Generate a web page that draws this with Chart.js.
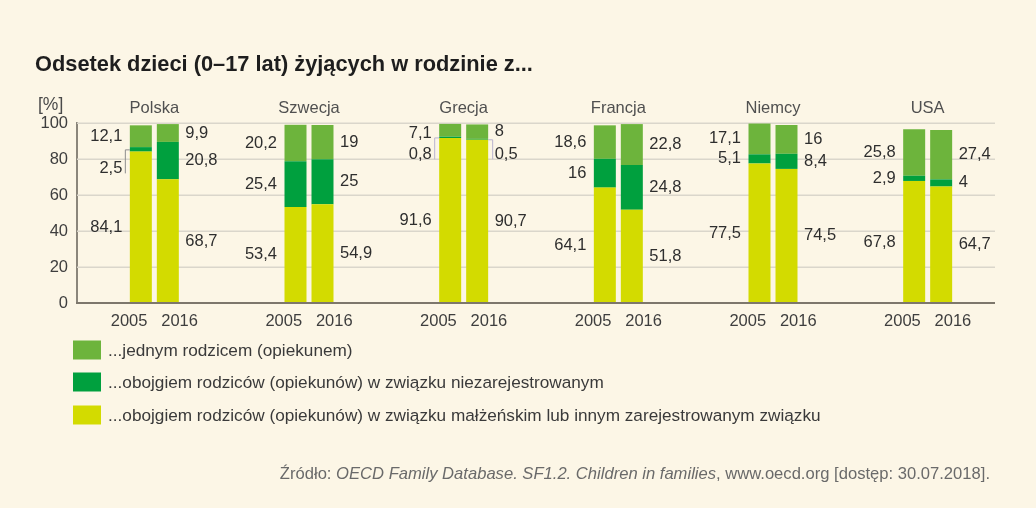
<!DOCTYPE html>
<html><head><meta charset="utf-8">
<script src="https://cdn.jsdelivr.net/npm/chart.js@4.4.1/dist/chart.umd.min.js"></script>
<style>
html,body{margin:0;padding:0;background:#FCF6E6;overflow:hidden}
#wrap{width:1036px;height:508px;position:relative}
canvas{display:block}
</style>
</head><body>
<div id="wrap"><canvas id="c" width="1036" height="508" style="width:1036px;height:508px"></canvas></div>
<script>
// ---- data ----
const countries = ['Polska', 'Szwecja', 'Grecja', 'Francja', 'Niemcy', 'USA'];
const years = ['2005', '2016'];
const yTicks = [0, 20, 40, 60, 80, 100];
const married2005 = [84.1, 53.4, 91.6, 64.1, 77.5, 67.8];
const married2016 = [68.7, 54.9, 90.7, 51.8, 74.5, 64.7];
const cohab2005   = [2.5, 25.4, 0.8, 16, 5.1, 2.9];
const cohab2016   = [20.8, 25, 0.5, 24.8, 8.4, 4];
const single2005  = [12.1, 20.2, 7.1, 18.6, 17.1, 25.8];
const single2016  = [9.9, 19, 8, 22.8, 16, 27.4];
const seriesNames = [
  '...jednym rodzicem (opiekunem)',
  '...obojgiem rodziców (opiekunów) w związku niezarejestrowanym',
  '...obojgiem rodziców (opiekunów) w związku małżeńskim lub innym zarejestrowanym związku'
];
const titleText = 'Odsetek dzieci (0–17 lat) żyjących w rodzinie z...';
const unitText = '[%]';
const sourceParts = [
  ['Źródło: ', false],
  ['OECD Family Database. SF1.2. Children in families', true],
  [', www.oecd.org [dostęp: 30.07.2018].', false]
];

// ---- styles ----
const C_MARRIED = '#D3DB00';
const C_COHAB = '#00A03E';
const C_SINGLE = '#6DB43C';
const FONT = '"Liberation Sans", Arial, sans-serif';
const GRID_RIGHT = 995;
// pixel shifts for labels of very small segments (style only)
const labelShift = { '2005|1|0': 19, '2005|1|2': 17, '2016|1|2': 15, '2005|2|2': 3 };

function fmt(v) { return String(v).replace('.', ','); }

const datasets = [
  { label: seriesNames[2], data: married2005, backgroundColor: C_MARRIED, stack: '2005', sIdx: 2 },
  { label: seriesNames[1], data: cohab2005,   backgroundColor: C_COHAB,   stack: '2005', sIdx: 1 },
  { label: seriesNames[0], data: single2005,  backgroundColor: C_SINGLE,  stack: '2005', sIdx: 0 },
  { label: seriesNames[2], data: married2016, backgroundColor: C_MARRIED, stack: '2016', sIdx: 2 },
  { label: seriesNames[1], data: cohab2016,   backgroundColor: C_COHAB,   stack: '2016', sIdx: 1 },
  { label: seriesNames[0], data: single2016,  backgroundColor: C_SINGLE,  stack: '2016', sIdx: 0 }
];

const decor = {
  id: 'decor',
  beforeDatasetsDraw(chart) {
    const ctx = chart.ctx;
    const ys = chart.scales.y;
    const left = chart.chartArea.left;
    ctx.save();
    ctx.strokeStyle = '#DAD6CB';
    ctx.lineWidth = 1.5;
    yTicks.forEach(v => {
      if (v === 0) return;
      const y = Math.round(ys.getPixelForValue(v)) + 0.25;
      ctx.beginPath();
      ctx.moveTo(left, y);
      ctx.lineTo(GRID_RIGHT, y);
      ctx.stroke();
    });
    ctx.restore();
  },
  afterDatasetsDraw(chart) {
    const ctx = chart.ctx;
    const ys = chart.scales.y;
    ctx.save();
    // zero baseline
    ctx.strokeStyle = '#7d776c';
    ctx.lineWidth = 2;
    const y0 = ys.getPixelForValue(0);
    ctx.beginPath();
    ctx.moveTo(chart.chartArea.left - 1, y0);
    ctx.lineTo(GRID_RIGHT, y0);
    ctx.stroke();

    ctx.font = '16.5px ' + FONT;
    ctx.fillStyle = '#2e2e2e';
    ctx.textBaseline = 'middle';
    chart.data.datasets.forEach((ds, di) => {
      const meta = chart.getDatasetMeta(di);
      const layer = ds.sIdx === 2 ? 0 : (ds.sIdx === 1 ? 1 : 2);
      meta.data.forEach((bar, j) => {
        const p = bar.getProps(['x', 'y', 'base', 'width'], true);
        const cy = (p.y + p.base) / 2;
        const key = ds.stack + '|' + layer + '|' + j;
        const shift = labelShift[key] || 0;
        const ly = cy + shift;
        const leftSide = ds.stack === '2005';
        const edge = leftSide ? p.x - p.width / 2 : p.x + p.width / 2;
        if (shift > 8) {
          ctx.save();
          ctx.strokeStyle = leftSide && j === 0 ? '#8d8d8d' : '#b9b3cf';
          ctx.lineWidth = 1;
          const bx = leftSide ? edge - 4.5 : edge + 4.5;
          ctx.beginPath();
          ctx.moveTo(edge, cy + 0.5);
          ctx.lineTo(bx, cy + 0.5);
          ctx.lineTo(bx, ly + 5);
          ctx.stroke();
          ctx.restore();
        }
        ctx.textAlign = leftSide ? 'right' : 'left';
        ctx.fillText(fmt(ds.data[j]), leftSide ? edge - 7.5 : edge + 6.5, ly);
      });
    });
    ctx.restore();
  },
  afterDraw(chart) {
    const ctx = chart.ctx;
    const xs = chart.scales.x;
    ctx.save();
    // title
    ctx.fillStyle = '#1e1e1e';
    ctx.font = 'bold 21.8px ' + FONT;
    ctx.textAlign = 'left';
    ctx.textBaseline = 'alphabetic';
    ctx.fillText(titleText, 35, 71);
    // unit
    ctx.fillStyle = '#4a4a4a';
    ctx.font = '17.5px ' + FONT;
    ctx.textBaseline = 'middle';
    ctx.fillText(unitText, 38, 105);
    // country names
    ctx.font = '16.5px ' + FONT;
    ctx.fillStyle = '#505050';
    ctx.textAlign = 'center';
    countries.forEach((c, i) => ctx.fillText(c, xs.getPixelForTick(i), 108));
    // legend
    const colors = [C_SINGLE, C_COHAB, C_MARRIED];
    const rows = [350, 382, 415];
    ctx.textAlign = 'left';
    ctx.font = '17.2px ' + FONT;
    seriesNames.forEach((n, i) => {
      ctx.fillStyle = colors[i];
      ctx.fillRect(73, rows[i] - 9.5, 28, 19);
      ctx.fillStyle = '#3a3a3a';
      ctx.fillText(n, 108, rows[i] + 1);
    });
    // source
    ctx.fillStyle = '#6a6a6a';
    let total = 0;
    const fonts = sourceParts.map(p => (p[1] ? 'italic ' : '') + '16.6px ' + FONT);
    sourceParts.forEach((p, i) => { ctx.font = fonts[i]; total += ctx.measureText(p[0]).width; });
    let x = 990 - total;
    sourceParts.forEach((p, i) => {
      ctx.font = fonts[i];
      ctx.fillText(p[0], x, 474);
      x += ctx.measureText(p[0]).width;
    });
    ctx.restore();
  }
};

new Chart(document.getElementById('c'), {
  type: 'bar',
  data: { labels: countries, datasets },
  options: {
    responsive: false,
    animation: false,
    events: [],
    layout: { padding: { left: 0, right: 31, top: 123, bottom: 175 } },
    datasets: { bar: { categoryPercentage: 0.349, barPercentage: 0.815, borderWidth: 0 } },
    plugins: { legend: { display: false }, tooltip: { enabled: false }, title: { display: false } },
    scales: {
      x: {
        stacked: true,
        grid: { display: false, drawTicks: false },
        border: { display: false },
        ticks: {
          color: '#3e3e3e', font: { size: 16.5, family: FONT }, padding: 9,
          maxRotation: 0, autoSkip: false,
          callback: () => years.join('   ')
        },
        afterFit: (s) => { s.height = 30; }
      },
      y: {
        stacked: true,
        min: yTicks[0], max: yTicks[yTicks.length - 1],
        afterBuildTicks: (s) => { s.ticks = yTicks.map(v => ({ value: v })); },
        grid: { display: false, drawTicks: false },
        border: { display: true, color: '#8b867b', width: 2 },
        ticks: { color: '#3e3e3e', font: { size: 16.5, family: FONT }, padding: 9 },
        afterFit: (s) => { s.width = 77; }
      }
    }
  },
  plugins: [decor]
});
</script>
</body></html>
